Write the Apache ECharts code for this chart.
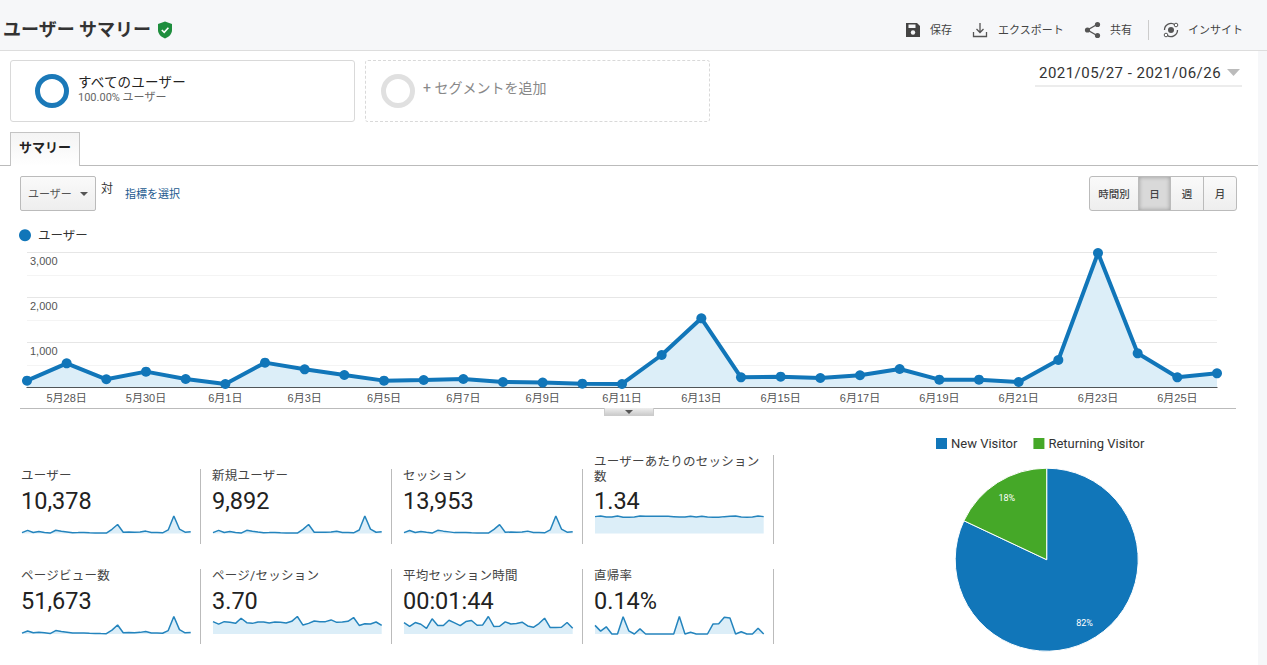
<!DOCTYPE html>
<html lang="ja">
<head>
<meta charset="utf-8">
<title>ユーザー サマリー</title>
<script src="https://cdn.jsdelivr.net/npm/echarts@6/dist/echarts.min.js"></script>
<style>
html,body{margin:0;padding:0;width:1267px;height:665px;overflow:hidden;background:#fff;font-family:Roboto,"Noto Sans CJK JP",sans-serif;color:#333}
#page{position:relative;width:1267px;height:665px;overflow:hidden}
#chart{position:absolute;left:0;top:0;width:1267px;height:665px}
.a{position:absolute;white-space:nowrap;line-height:1}
.box{position:absolute;box-sizing:border-box}
.ic{position:absolute}
.kl{position:absolute;font-size:12.5px;letter-spacing:.25px;color:#444;line-height:15px;width:172px}
.kv{position:absolute;font-size:23.5px;color:#222;line-height:1}
.sep{position:absolute;width:1px;background:#bbb}
.btn{position:absolute;top:176px;height:35px;box-sizing:border-box;border:1px solid #bbb;background:linear-gradient(#fafafa,#eee);font-size:10.5px;font-weight:500;color:#444;text-align:center;line-height:35px}
</style>
</head>
<body>
<div id="page">
  <!-- page chrome -->
  <div class="box" style="left:0;top:0;width:1267px;height:51px;background:#f6f7f9;border-bottom:1px solid #ddd"></div>
  <div class="box" style="left:1258px;top:51px;width:9px;height:614px;background:#f6f7f9"></div>
  <div class="a" style="left:3px;top:21px;font-size:18px;font-weight:700;color:#333">ユーザー サマリー</div>
  <svg class="ic" style="left:157px;top:21px" width="16" height="18" viewBox="0 0 16 18"><path d="M8 0.5 L15 3 V9 C15 13 12 16 8 17.5 C4 16 1 13 1 9 V3 Z" fill="#1e8e3e"/><path d="M4.8 9 L7.2 11.4 L11.4 6.8" stroke="#fff" stroke-width="1.6" fill="none"/></svg>

  <svg class="ic" style="left:905px;top:22px" width="16" height="16" viewBox="0 0 16 16"><path d="M1 1 H12 L15 4 V15 H1 Z" fill="#444"/><rect x="3.5" y="2.5" width="7" height="3.5" fill="#f6f7f9"/><circle cx="8" cy="10.5" r="2.2" fill="#f6f7f9"/></svg>
  <div class="a" style="left:930px;top:25px;font-size:11px;color:#444">保存</div>
  <svg class="ic" style="left:972px;top:22px" width="16" height="16" viewBox="0 0 16 16"><path d="M8 1 V10 M4.5 7 L8 10.5 L11.5 7 M1.5 10 V14.5 H14.5 V10" stroke="#555" stroke-width="1.3" fill="none"/></svg>
  <div class="a" style="left:998px;top:25px;font-size:11px;color:#444">エクスポート</div>
  <svg class="ic" style="left:1084px;top:21px" width="17" height="18" viewBox="0 0 17 18"><path d="M13 3.5 L3.5 9 L13 14.5" stroke="#555" stroke-width="1.4" fill="none"/><circle cx="13.5" cy="3.5" r="2.6" fill="#555"/><circle cx="3.5" cy="9" r="2.6" fill="#555"/><circle cx="13.5" cy="14.5" r="2.6" fill="#555"/></svg>
  <div class="a" style="left:1110px;top:25px;font-size:11px;color:#444">共有</div>
  <div class="box" style="left:1148px;top:20px;width:1px;height:20px;background:#ccc"></div>
  <svg class="ic" style="left:1162px;top:21px" width="18" height="18" viewBox="0 0 18 18"><path d="M2.5 9 A6.5 6.5 0 0 1 13 3.8 M15.5 9 A6.5 6.5 0 0 1 5 14.2" stroke="#555" stroke-width="1.3" fill="none"/><circle cx="9" cy="9" r="3" fill="#555"/><circle cx="14" cy="4" r="1.8" fill="#fff" stroke="#555"/><circle cx="4" cy="14" r="1.8" fill="#fff" stroke="#555"/></svg>
  <div class="a" style="left:1188px;top:25px;font-size:11px;color:#444">インサイト</div>

  <div class="box" style="left:10px;top:60px;width:345px;height:62px;border:1px solid #d9d9d9;border-radius:3px"></div>
  <div class="box" style="left:35px;top:74px;width:34px;height:34px;border:5px solid #1b79b8;border-radius:50%"></div>
  <div class="a" style="left:78px;top:76px;font-size:13.5px;letter-spacing:.2px;color:#222">すべてのユーザー</div>
  <div class="a" style="left:78px;top:92px;font-size:11px;color:#666">100.00% ユーザー</div>
  <div class="box" style="left:365px;top:60px;width:345px;height:62px;border:1px dashed #d9d9d9;border-radius:3px"></div>
  <div class="box" style="left:381px;top:74px;width:34px;height:34px;border:5px solid #e0e0e0;border-radius:50%"></div>
  <div class="a" style="left:423px;top:81px;font-size:14px;color:#888">+ セグメントを追加</div>

  <div class="a" style="left:1039px;top:66px;font-size:15px;letter-spacing:.47px;color:#333">2021/05/27 - 2021/06/26</div>
  <svg class="ic" style="left:1227px;top:69px" width="13" height="8"><path d="M0 0 H13 L6.5 7 Z" fill="#bbb"/></svg>
  <div class="box" style="left:1035px;top:85px;width:207px;height:2px;background:#ececec"></div>

  <div class="box" style="left:0;top:165px;width:1258px;height:1px;background:#bbb"></div>
  <div class="box" style="left:10px;top:132px;width:70px;height:34px;border:1px solid #c4c4c4;border-bottom:none;background:linear-gradient(#f4f4f4,#fff)"></div>
  <div class="a" style="left:19px;top:141px;font-size:13px;font-weight:700;color:#222">サマリー</div>

  <div class="box" style="left:20px;top:176px;width:76px;height:35px;border:1px solid #bbb;border-radius:2px;background:linear-gradient(#fafafa,#eee)"></div>
  <div class="a" style="left:28px;top:189px;font-size:11px;color:#555">ユーザー</div>
  <svg class="ic" style="left:80px;top:192px" width="8" height="4"><path d="M0 0 H8 L4 4 Z" fill="#555"/></svg>
  <div class="a" style="left:101px;top:183px;font-size:12px;color:#333">対</div>
  <div class="a" style="left:125px;top:189px;font-size:11px;color:#22598f">指標を選択</div>

  <div class="btn" style="left:1089px;width:50px;border-radius:3px 0 0 3px">時間別</div>
  <div class="btn" style="left:1138px;width:33px;background:#d9d9d9;box-shadow:inset 0 0 4px #999">日</div>
  <div class="btn" style="left:1170px;width:34px">週</div>
  <div class="btn" style="left:1203px;width:34px;border-radius:0 3px 3px 0">月</div>

  <div class="box" style="left:20px;top:408px;width:1216px;height:1px;background:#bbb"></div>
  <div class="box" style="left:604px;top:408px;width:50px;height:8px;background:linear-gradient(#eee,#ccc);border:1px solid #ccc;border-top:none"></div>
  <svg class="ic" style="left:625px;top:410px" width="8" height="4"><path d="M0 0 H8 L4 4 Z" fill="#555"/></svg>

  <!-- KPI text -->
  <div class="kl" style="left:21px;top:468px">ユーザー</div><div class="kv" style="left:21px;top:490px">10,378</div>
  <div class="kl" style="left:212px;top:468px">新規ユーザー</div><div class="kv" style="left:212px;top:490px">9,892</div>
  <div class="kl" style="left:403px;top:468px">セッション</div><div class="kv" style="left:403px;top:490px">13,953</div>
  <div class="kl" style="left:594px;top:454px">ユーザーあたりのセッション数</div><div class="kv" style="left:594px;top:490px">1.34</div>
  <div class="kl" style="left:21px;top:568px">ページビュー数</div><div class="kv" style="left:21px;top:590px">51,673</div>
  <div class="kl" style="left:212px;top:568px">ページ/セッション</div><div class="kv" style="left:212px;top:590px">3.70</div>
  <div class="kl" style="left:403px;top:568px">平均セッション時間</div><div class="kv" style="left:403px;top:590px">00:01:44</div>
  <div class="kl" style="left:594px;top:568px">直帰率</div><div class="kv" style="left:594px;top:590px">0.14%</div>
  <div class="sep" style="left:200px;top:469px;height:75px"></div><div class="sep" style="left:391px;top:469px;height:75px"></div><div class="sep" style="left:582px;top:469px;height:75px"></div><div class="sep" style="left:773px;top:455px;height:89px"></div>
  <div class="sep" style="left:200px;top:569px;height:75px"></div><div class="sep" style="left:391px;top:569px;height:75px"></div><div class="sep" style="left:582px;top:569px;height:75px"></div><div class="sep" style="left:773px;top:569px;height:75px"></div>

  <div id="chart"></div>
</div>
<script>
const dates = ['5月27日','5月28日','5月29日','5月30日','5月31日','6月1日','6月2日','6月3日','6月4日','6月5日','6月6日','6月7日','6月8日','6月9日','6月10日','6月11日','6月12日','6月13日','6月14日','6月15日','6月16日','6月17日','6月18日','6月19日','6月20日','6月21日','6月22日','6月23日','6月24日','6月25日','6月26日'];
const users = [148,533,178,348,185,74,548,400,274,148,163,185,118,104,81,74,718,1533,222,237,207,267,407,170,170,118,607,2985,755,222,311];
const newUsers = [135,500,165,320,170,68,510,370,250,135,150,170,108,95,75,68,680,1460,205,220,190,245,375,155,155,108,565,2840,710,205,290];
const sessions = [190,700,240,460,260,100,730,540,370,200,220,250,160,140,110,100,950,2030,300,320,280,360,540,230,230,160,810,3990,1010,300,420];
const sessionsPerUser = [1.34,1.39,1.31,1.31,1.39,1.29,1.29,1.31,1.39,1.37,1.37,1.37,1.37,1.37,1.34,1.31,1.31,1.37,1.31,1.37,1.31,1.29,1.29,1.34,1.37,1.39,1.31,1.29,1.31,1.39,1.34];
const pageViews = [560,2020,840,1250,780,270,2290,1720,1240,660,600,690,440,350,260,240,2580,6100,830,930,780,1100,1650,640,650,500,2320,11800,2940,800,1090];
const pagesPerSession = [3.82,3.07,3.82,3.60,3.29,4.88,3.50,3.29,3.71,3.71,3.39,3.71,3.60,3.39,3.92,5.41,2.76,3.29,4.03,3.82,3.82,4.35,3.60,3.71,3.92,5.09,2.65,3.18,3.07,3.71,2.65];
const avgSessionSeconds = [114,77,114,97,57,151,84,84,137,111,84,124,134,87,90,174,74,77,121,100,104,117,80,67,104,157,64,64,67,114,57];
const bounceRate = [0.30,0.10,0.25,0,0,0.60,0.11,0,0.18,0,0,0,0,0,0,0.61,0,0.06,0,0,0,0.35,0.36,0.58,0.56,0,0.08,0,0,0.20,0];
const visitorTypes = ['New Visitor','Returning Visitor'];
const visitorShares = [82,18];

const BLUE = '#1176b9', GREEN = '#45a828', AREA = '#dceef8';
const FONT = 'Roboto,"Noto Sans CJK JP",sans-serif';
const sparkRows = [
  [users, newUsers, sessions, sessionsPerUser],
  [pageViews, pagesPerSession, avgSessionSeconds, bounceRate]
];
const sparkLeft = [22, 213, 404, 595];
const sparkTop = [516, 616.5];
const pieLabelOffsets = [[-3,-1],[1,3]];

const grids = [{left:27, top:252.3, width:1190, height:135}];
const xAxes = [{
  type:'category', gridIndex:0, data:dates, boundaryGap:false,
  axisLine:{lineStyle:{color:'#222', width:1}}, axisTick:{show:false},
  axisLabel:{interval:(i)=>i%2===1, color:'#555', fontSize:11, margin:5, fontFamily:'"Liberation Sans","Noto Sans CJK JP",sans-serif', hideOverlap:false}
}];
const yAxes = [{
  type:'value', gridIndex:0, min:0, max:3000, interval:500,
  axisLine:{show:false}, axisTick:{show:false},
  splitLine:{lineStyle:{color:['#e6e6e6','#f4f4f4'], width:1}},
  axisLabel:{inside:true, margin:3, color:'#555', fontSize:11, verticalAlign:'top', padding:[3,0,0,0], showMinLabel:true, showMaxLabel:true,
    fontFamily:'"Liberation Sans",sans-serif',
    formatter:(v)=> (v>0 && v%1000===0) ? v.toLocaleString('en-US') : ''}
}];
const series = [{
  name:'ユーザー', type:'line', xAxisIndex:0, yAxisIndex:0, data:users, clip:false,
  symbol:'circle', symbolSize:10, showAllSymbol:true,
  lineStyle:{color:BLUE, width:4}, itemStyle:{color:BLUE},
  areaStyle:{color:AREA, opacity:1}, z:5
}];
sparkRows.forEach((row, r)=>row.forEach((values, c)=>{
  const idx = grids.length;
  grids.push({left:sparkLeft[c], top:sparkTop[r], width:168.7, height:17.5});
  xAxes.push({type:'category', gridIndex:idx, data:dates, boundaryGap:false, show:false});
  yAxes.push({type:'value', gridIndex:idx, min:0, max:'dataMax', show:false, splitLine:{show:false}});
  series.push({type:'line', xAxisIndex:idx, yAxisIndex:idx, data:values, symbol:'none', clip:false,
    lineStyle:{color:'#2484bd', width:1.5}, areaStyle:{color:AREA, opacity:1}, silent:true});
}));
const pieData = visitorTypes.map((name,i)=>({name, value:visitorShares[i], itemStyle:{color:i?GREEN:BLUE}}));
series.push({
  type:'pie', center:[1046.7,559.7], radius:[0,91.5], startAngle:90, clockwise:true, silent:true,
  data:pieData, label:{show:false}, labelLine:{show:false},
  itemStyle:{borderColor:'#fff', borderWidth:1}
});
series.push({
  type:'pie', center:[1046.7,559.7], radius:[55,91.5], startAngle:90, clockwise:true, silent:true,
  data:pieData.map((d,i)=>({name:d.name, value:d.value, itemStyle:{color:'rgba(0,0,0,0)'}, label:{offset:pieLabelOffsets[i]}})),
  label:{show:true, position:'inside', formatter:'{c}%', color:'#fff', fontSize:9, fontFamily:FONT},
  labelLine:{show:false}, legendHoverLink:false, z:3
});

const chart = echarts.init(document.getElementById('chart'), null, {renderer:'svg', width:1267, height:665});
chart.setOption({
  animation:false, backgroundColor:'transparent',
  textStyle:{fontFamily:FONT},
  grid:grids, xAxis:xAxes, yAxis:yAxes, series,
  legend:[
    {data:['ユーザー'], left:19, top:229, padding:0, icon:'circle', itemWidth:12, itemHeight:12, itemGap:0, selectedMode:false,
     textStyle:{color:'#333', fontSize:12.5, fontFamily:FONT, padding:[0,0,0,2]}},
    {data:visitorTypes, left:934, top:436, padding:0, icon:'rect', itemWidth:13, itemHeight:13, itemGap:14, selectedMode:false,
     textStyle:{color:'#333', fontSize:13, fontFamily:FONT, padding:[0,0,0,-2]}}
  ]
});
</script>
</body>
</html>
